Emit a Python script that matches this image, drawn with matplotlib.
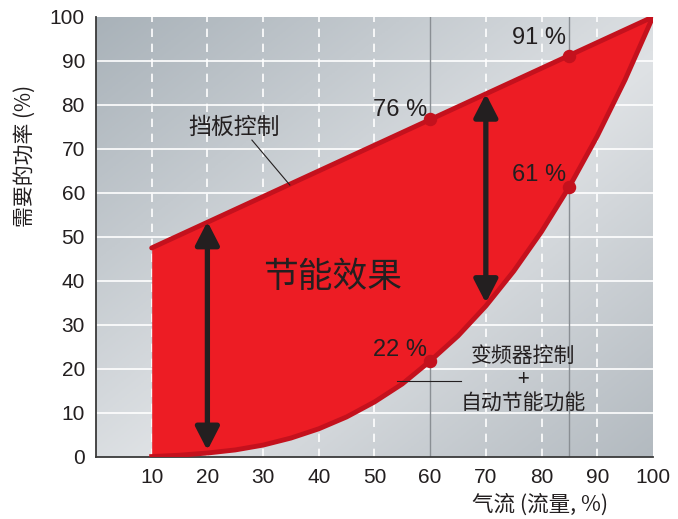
import numpy as np
import matplotlib.pyplot as plt
from matplotlib.colors import LinearSegmentedColormap

plt.rcParams['font.family'] = ['Liberation Sans', 'Noto Sans CJK SC', 'DejaVu Sans']

# 数据
x_upper = [10, 100]
y_upper = [47.5, 100]
x_lower = [10, 15, 20, 25, 30, 35, 40, 45, 50, 55, 60, 65, 70, 75, 80, 85, 90, 95, 100]
y_lower = [0.1, 0.4, 0.9, 1.6, 2.7, 4.3, 6.4, 9.1, 12.5, 16.6, 21.8, 27.5, 34.3, 42.2, 51.2, 61.4, 72.9, 85.7, 100]
pt_x = [60, 85, 60, 85]
pt_y = [76.7, 91.2, 21.8, 61.4]
pt_labels = ["76 %", "91 %", "22 %", "61 %"]
lab_y = [78.9, 95.2, 24.3, 64.0]
xticks = [10, 20, 30, 40, 50, 60, 70, 80, 90, 100]
yticks = [0, 10, 20, 30, 40, 50, 60, 70, 80, 90, 100]
arrows = [(20, 53.5, 1.5), (70, 82.5, 35)]

red = '#ed1c24'
dark_red = '#c4111d'
black = '#231f20'
cjk = ['Noto Sans CJK SC', 'DejaVu Sans']

fig = plt.figure(figsize=(6.78, 5.19), dpi=100)
ax = fig.add_axes([0.1416, 0.1195, 0.8214, 0.848])
ax.set_xlim(0, 100)
ax.set_ylim(0, 100)

# 背景渐变（左上、右下较暗）
gx, gy = np.meshgrid(np.linspace(0, 1, 200), np.linspace(0, 1, 200))
g = (gx + gy) / 2
cmap = LinearSegmentedColormap.from_list(
    'bg', [(0, '#a9b2b9'), (0.55, '#dfe2e5'), (1, '#b3bac0')])
ax.imshow(g, extent=[0, 100, 0, 100], origin='upper', cmap=cmap, aspect='auto', zorder=0)

# 网格
for yv in yticks[1:-1]:
    ax.axhline(yv, color='white', lw=1.2, zorder=1)
for xv in xticks[:-1]:
    if xv == 60:
        continue
    ax.axvline(xv, color='white', lw=1.2, ls=(0, (5, 4)), zorder=1)
for xv in [60, 85]:
    ax.axvline(xv, color='#8a8f94', lw=1.0, zorder=1)

# 红色区域
upper_interp = np.interp(x_lower, x_upper, y_upper)
ax.fill_between(x_lower, y_lower, upper_interp, color=red, lw=0, zorder=2)
ax.plot(x_upper, y_upper, color=dark_red, lw=3.5, solid_capstyle='round', zorder=3)
ax.plot(x_lower, y_lower, color=dark_red, lw=3.5, zorder=3)

ax.scatter(pt_x, pt_y, s=75, color=dark_red, zorder=5)
for px, ly, lab in zip(pt_x, lab_y, pt_labels):
    ax.text(px - 0.6, ly, lab, ha='right', va='center', fontsize=17, color=black, zorder=6)

# 双向箭头
for xa, ytop, ybot in arrows:
    ax.annotate('', xy=(xa, ytop), xytext=(xa, ybot),
                arrowprops=dict(arrowstyle='<|-|>,head_length=0.7,head_width=0.36',
                                color=black, lw=3.8, mutation_scale=20,
                                shrinkA=0, shrinkB=0), zorder=6)

ax.text(42.4, 40.7, "节能效果", fontsize=25, color=black, ha='center', va='center',
        family=cjk, zorder=6)

ax.text(24.8, 74.8, "挡板控制", fontsize=16.5, color=black, ha='center', va='center',
        family=cjk, zorder=6)
ax.plot([28, 34.8], [72, 61.8], color=black, lw=0.8, zorder=6)

ax.text(76.7, 17.5, "变频器控制\n+\n自动节能功能", fontsize=15, color=black, ha='center',
        va='center', linespacing=1.1, family=cjk, zorder=6)
ax.plot([54, 65.5], [17.3, 17.3], color=black, lw=0.8, zorder=6)

ax.set_xticks(xticks)
ax.set_yticks(yticks)
ax.tick_params(length=0, labelsize=15, labelcolor=black, pad=8)
for s in ['top', 'right']:
    ax.spines[s].set_visible(False)
for s in ['left', 'bottom']:
    ax.spines[s].set_color('#3a3a3a')
    ax.spines[s].set_linewidth(1.3)

ax.set_ylabel("需要的功率 (%)", fontsize=15, color=black, family=cjk)
ax.yaxis.set_label_coords(-0.108, 0.685)
fig.text(540 / 678, 1 - 505 / 519, "气流 (流量, %)", fontsize=15.5, color=black,
         ha='center', va='center', family=cjk)

fig.savefig("out.png", dpi=100)
